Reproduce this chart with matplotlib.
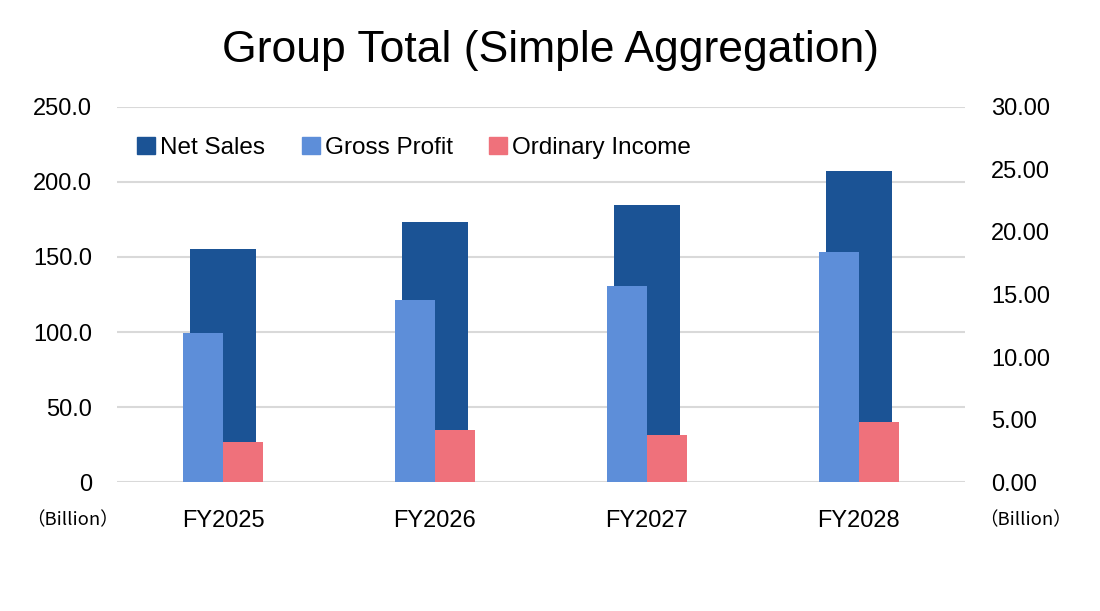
import numpy as np
import matplotlib
matplotlib.use("Agg")
import matplotlib.pyplot as plt
from matplotlib.patches import Patch

plt.rcParams["font.family"] = ["Liberation Sans", "DejaVu Sans"]

years = ["FY2025", "FY2026", "FY2027", "FY2028"]
net_sales = [155.3, 173.3, 184.7, 207.3]
gross_profit = [99.3, 121.3, 130.7, 153.3]
ordinary_income = [3.2, 4.16, 3.76, 4.8]

c_sales = "#1B5395"
c_gross = "#5D8ED9"
c_income = "#EF717B"

fig = plt.figure(figsize=(11, 6.11), dpi=100)
ax = fig.add_axes([0.1064, 0.2111, 0.7706, 0.6138])
ax2 = ax.twinx()

x = np.arange(len(years))
ax.bar(x, net_sales, width=0.31, color=c_sales, zorder=2)
ax.bar(x - 0.094, gross_profit, width=0.188, color=c_gross, zorder=3)
ax2.bar(x + 0.094, ordinary_income, width=0.188, color=c_income, zorder=3)

ax.set_xlim(-0.5, 3.5)
ax.set_ylim(0, 250)
ax2.set_ylim(0, 30)
ax.set_yticks(np.arange(0, 251, 50))
ax.set_yticklabels(["0"] + [f"{v:.1f}" for v in np.arange(50, 251, 50)])
ax2.set_yticks(np.arange(0, 31, 5))
ax2.set_yticklabels([f"{v:.2f}" for v in np.arange(0, 31, 5)])
ax.set_xticks(x)
ax.set_xticklabels(years)

ax.grid(axis="y", color="#d9d9d9", linewidth=1.5, zorder=0)
for a in (ax, ax2):
    for s in a.spines.values():
        s.set_visible(False)
ax.tick_params(axis="y", length=0, labelsize=17, pad=18)
ax2.tick_params(axis="y", length=0, labelsize=17, pad=19)
ax.tick_params(axis="x", length=0, labelsize=17, pad=20)

handles = [Patch(color=c_sales), Patch(color=c_gross), Patch(color=c_income)]
ax2.legend(handles, ["Net Sales", "Gross Profit", "Ordinary Income"],
           loc="center left", bbox_to_anchor=(0.0236, 0.891), ncol=3,
           frameon=False, fontsize=17.5, handlelength=0.75, handleheight=0.75,
           handletextpad=0.2, columnspacing=1.5, borderpad=0, borderaxespad=0)

fig.text(0.5, 0.918, "Group Total (Simple Aggregation)", ha="center", va="center", fontsize=32)
fig.text(0.0655, 0.149, "（Billion）", ha="center", va="center", fontsize=13.3,
         family=["Noto Sans CJK JP", "Liberation Sans"])
fig.text(0.932, 0.149, "（Billion）", ha="center", va="center", fontsize=13.3,
         family=["Noto Sans CJK JP", "Liberation Sans"])

fig.savefig("out.png", dpi=100)
